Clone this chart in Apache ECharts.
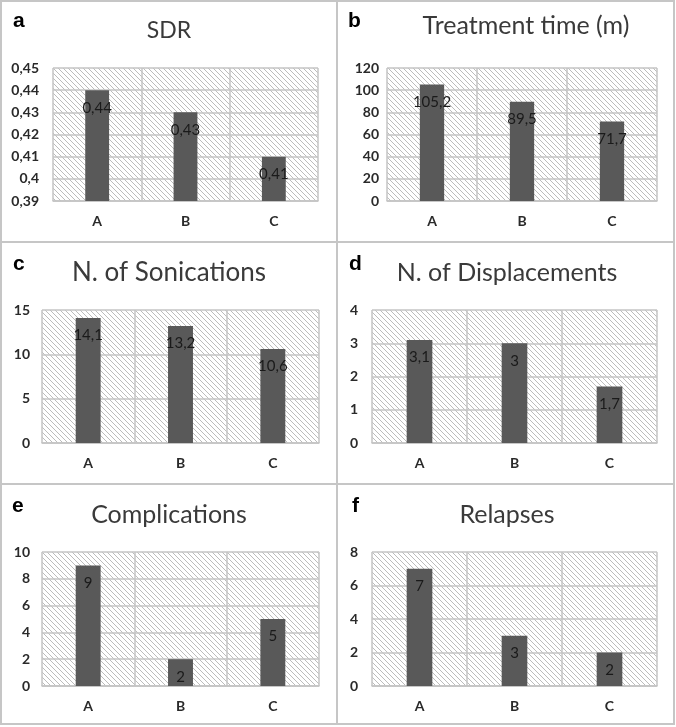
<!DOCTYPE html>
<html>
<head>
<meta charset="utf-8">
<script src="https://cdn.jsdelivr.net/npm/echarts@6/dist/echarts.min.js"></script>
<style>
html,body{margin:0;padding:0;background:#fff;}
#chart{width:676px;height:727px;}
</style>
</head>
<body>
<div id="chart"></div>
<script>
// ---- data ----
var categories = ['A', 'B', 'C'];
var sdrValues = [0.44, 0.43, 0.41];
var treatmentTimeValues = [105.2, 89.5, 71.7];
var sonicationValues = [14.1, 13.2, 10.6];
var displacementValues = [3.1, 3, 1.7];
var complicationValues = [9, 2, 5];
var relapseValues = [7, 3, 2];
var panelTitles = ['SDR', 'Treatment time (m)', 'N. of Sonications', 'N. of Displacements', 'Complications', 'Relapses'];
var panelLetters = ['a', 'b', 'c', 'd', 'e', 'f'];
var yMins = [0.39, 0, 0, 0, 0, 0];
var yMaxs = [0.45, 120, 15, 4, 10, 8];
var yIntervals = [0.01, 20, 5, 1, 2, 2];
var seriesValues = [sdrValues, treatmentTimeValues, sonicationValues, displacementValues, complicationValues, relapseValues];

// ---- layout ----
var grids = [
  {left: 53, top: 68, width: 265, height: 133},
  {left: 387, top: 68, width: 270, height: 133},
  {left: 42, top: 310, width: 277, height: 133},
  {left: 372, top: 310, width: 285, height: 133},
  {left: 42, top: 552, width: 277, height: 134},
  {left: 372, top: 552, width: 285, height: 134}
];
var panels = [
  {x: 1, y: 1, w: 336, h: 241},
  {x: 337, y: 1, w: 337, h: 241},
  {x: 1, y: 242, w: 336, h: 242},
  {x: 337, y: 242, w: 337, h: 242},
  {x: 1, y: 484, w: 336, h: 240},
  {x: 337, y: 484, w: 337, h: 240}
];
var titlePos = [[169, 31, 23], [526, 26, 25], [169, 273, 26], [507, 273, 25], [169, 515, 25], [507, 515, 25]];
var letterPos = [[13, 21], [348, 21], [13, 264], [349, 264], [12, 506], [352, 506]];
var yLabelMargins = [14, 8, 12, 14, 12, 14];

// hatch pattern
var tile = document.createElement('canvas');
tile.width = 5; tile.height = 5;
var tc = tile.getContext('2d');
tc.fillStyle = '#ffffff';
tc.fillRect(0, 0, 5, 5);
tc.strokeStyle = '#bcbcbc';
tc.lineWidth = 1;
tc.beginPath();
tc.moveTo(-1, -1); tc.lineTo(6, 6);
tc.moveTo(-1, 4); tc.lineTo(2, 7);
tc.moveTo(4, -1); tc.lineTo(7, 2);
tc.stroke();
var hatch = {image: tile, repeat: 'repeat'};

function fmt(v) {
  return String(+(+v).toFixed(3)).replace('.', ',');
}

var gridColor = '#c4c4c4';
var fontFam = 'Lato, "Open Sans", sans-serif';

var option = {
  animation: false,
  backgroundColor: '#ffffff',
  grid: [], xAxis: [], yAxis: [], series: [], title: [],
  graphic: []
};

for (var i = 0; i < 6; i++) {
  var g = grids[i];
  option.grid.push({left: g.left, top: g.top, width: g.width, height: g.height, show: true,
    backgroundColor: hatch, borderWidth: 0, containLabel: false});
  option.xAxis.push({
    type: 'category', gridIndex: i, data: categories,
    axisLine: {show: true, lineStyle: {color: gridColor, width: 1.5}},
    axisTick: {show: false},
    splitLine: {show: true, lineStyle: {color: gridColor, width: 1.5}},
    axisLabel: {color: '#2a2a2a', fontSize: 14, fontWeight: 'bold', fontFamily: fontFam, margin: 13}
  });
  option.yAxis.push({
    type: 'value', gridIndex: i, min: yMins[i], max: yMaxs[i], interval: yIntervals[i],
    axisLine: {show: false}, axisTick: {show: false},
    splitLine: {show: true, lineStyle: {color: gridColor, width: 1.5}},
    axisLabel: {color: '#2a2a2a', fontSize: 14, fontWeight: 'bold', fontFamily: fontFam, margin: yLabelMargins[i],
      formatter: fmt}
  });
  option.series.push({
    type: 'bar', xAxisIndex: i, yAxisIndex: i, data: seriesValues[i], barWidth: '27%',
    itemStyle: {color: '#595959'},
    label: {show: true, position: 'insideTop', distance: 10, color: '#1a1a1a', fontSize: 15,
      fontFamily: fontFam, formatter: function (p) { return fmt(p.value); }}
  });
  var p = panels[i];
  option.graphic.push({type: 'rect', silent: true, z: -10,
    shape: {x: p.x, y: p.y, width: p.w, height: p.h},
    style: {fill: 'none', stroke: '#c6c6c6', lineWidth: 2}});
  option.graphic.push({type: 'text', x: titlePos[i][0], y: titlePos[i][1],
    style: {text: panelTitles[i], fill: '#3a3a3a', font: 'normal ' + titlePos[i][2] + 'px ' + fontFam,
      align: 'center', verticalAlign: 'middle'}});
  option.graphic.push({type: 'text', x: letterPos[i][0], y: letterPos[i][1],
    style: {text: panelLetters[i], fill: '#000', font: 'bold 21px "Liberation Sans", Arial, sans-serif',
      align: 'left', verticalAlign: 'middle'}});
}

var chart = echarts.init(document.getElementById('chart'));
chart.setOption(option);
</script>
</body>
</html>
